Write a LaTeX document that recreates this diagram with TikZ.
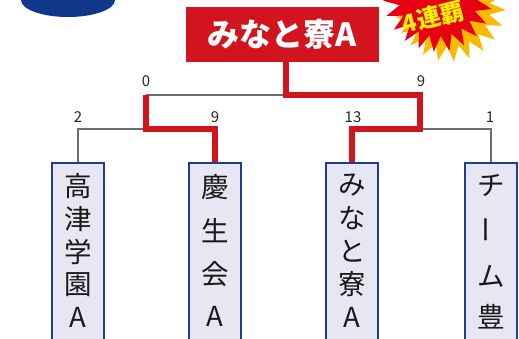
\documentclass[tikz,border=0pt]{standalone}
\usepackage{fontspec}
\usepackage{xcolor}
\usepackage{tikz}
\usetikzlibrary{shapes.geometric}
\newfontfamily\jp{Noto Sans CJK JP}
\definecolor{winred}{HTML}{D2141E}
\definecolor{losegray}{HTML}{6E6E6E}
\definecolor{boxblue}{HTML}{1F3C96}
\definecolor{boxfill}{HTML}{E7E6F3}
\definecolor{logoblue}{HTML}{0F388B}
\definecolor{burstyellow}{HTML}{FBB900}
\definecolor{burstred}{HTML}{E60012}
\definecolor{textyellow}{HTML}{FFEF00}

\begin{document}
\begin{tikzpicture}[x=1pt,y=-1pt,
  team/.style={draw=boxblue,line width=2.4pt,fill=boxfill,minimum width=52pt,minimum height=200pt,anchor=north,inner sep=0pt},
  score/.style={font=\jp\fontsize{15}{15}\selectfont,text=black!85,inner sep=0pt},
  teamname/.style={font=\jp\fontsize{27.5}{27.5}\selectfont,text=black!90,inner sep=0pt},
  burstshape/.style={star,star points=22,star point ratio=1.4,inner sep=0pt},
  lose/.style={draw=losegray,line width=2pt},
  win/.style={draw=winred,line width=5.5pt}]

  \useasboundingbox (0,0) rectangle (519,338);
  \clip (0,0) rectangle (519,338);

  % Blue logo cut at the top left
  \fill[logoblue] (68,0) ellipse [x radius=47, y radius=17];

  % Burst with the number of wins
  \node[burstshape,minimum size=112pt,fill=burstyellow,rotate=4] (burstback) at (450,6) {};
  \node[burstshape,minimum size=110pt,fill=burstred,rotate=12] (burst) at (438,-3) {};
  \node[text=textyellow,font=\jp\bfseries\fontsize{24}{24}\selectfont,rotate=14,inner sep=1pt] (wins) at (433,17) {4連覇};

  % Champion
  \node[fill=winred,text=white,font=\jp\bfseries\fontsize{32}{32}\selectfont,minimum width=193pt,minimum height=55pt,inner sep=0pt] (title) at (282.5,34.5) {みなと寮A};

  % Team boxes
  \node[team] (t1) at (78,162) {};
  \node[team] (t2) at (215,162) {};
  \node[team] (t3) at (352,162) {};
  \node[team] (t4) at (491,162) {};

  % Team names, one character below the other
  \foreach \c [count=\i] in {高,津,学,園,A} {
    \node[teamname] (t1-\i) at (78,{186+(\i-1)*32.75}) {\c};
  }
  \foreach \c [count=\i] in {慶,生,会,A} {
    \node[teamname] (t2-\i) at (215,{187+(\i-1)*43.3}) {\c};
  }
  \foreach \c [count=\i] in {み,な,と,寮,A} {
    \node[teamname] (t3-\i) at (352,{185+(\i-1)*33}) {\c};
  }
  \node[teamname] (t4-1) at (491,185) {チ};
  \node[teamname,rotate=90] (t4-2) at (491,230) {ー};
  \node[teamname] (t4-3) at (491,276) {ム};
  \node[teamname] (t4-4) at (491,317) {豊};

  % Bracket joints
  \coordinate (top) at (286,95);
  \coordinate (finalL) at (146,95);
  \coordinate (finalR) at (420,95);
  \coordinate (semiL) at (146,129);
  \coordinate (semiR) at (420,129);

  % Scores
  \node[score] (s-fl) at (146,81) {0};
  \node[score] (s-fr) at (421,81) {9};
  \node[score] (s-1) at (78,117) {2};
  \node[score] (s-2) at (215,117) {9};
  \node[score] (s-3) at (353,117) {13};
  \node[score] (s-4) at (490,117) {1};

  % Lines of the bracket
  \draw[lose] (finalL) -- (top);
  \draw[lose] (semiL) -| (t1.north);
  \draw[lose] (semiR) -| (t4.north);
  \draw[win] (finalL) -- (semiL) -| (t2.north);
  \draw[win] (title.south -| top) -- (top) -- (finalR) -- (semiR) -| (t3.north);
\end{tikzpicture}
\end{document}
